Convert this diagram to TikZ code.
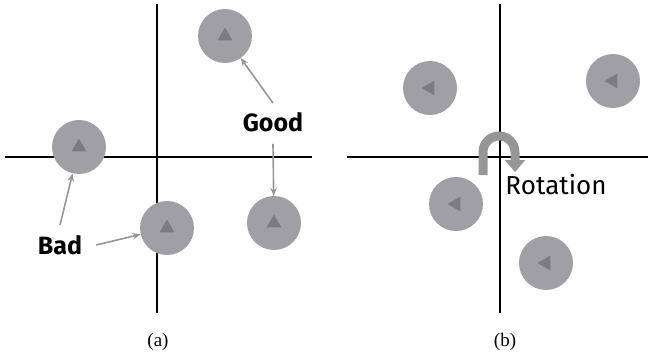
\documentclass[tikz,border=0pt]{standalone}
\usepackage{fontspec}
\setmainfont{Liberation Serif}
\newfontfamily\handfont{Fira Sans}
\usetikzlibrary{shapes.geometric}
\usetikzlibrary{arrows.meta}

\definecolor{diskgray}{RGB}{160,160,164}
\definecolor{markgray}{RGB}{124,124,128}
\definecolor{pointgray}{RGB}{150,150,152}

\tikzset{
  particle/.style={circle,fill=diskgray,minimum size=54pt,inner sep=0pt},
  marker/.style={regular polygon,regular polygon sides=3,fill=markgray,minimum size=17pt,inner sep=0pt},
  pointer/.style={draw=pointgray,line width=1.6pt,-{Stealth[length=8pt,width=6.5pt]}},
  tag/.style={font=\handfont\bfseries\fontsize{25}{25}\selectfont,inner sep=2pt},
  axis/.style={line width=1.2pt}
}

\begin{document}
\begin{tikzpicture}[x=1pt,y=-1pt]
\useasboundingbox (0,0) rectangle (649,360);

% Panel (a): axes
\draw[axis] (157,4) -- (157,313);
\draw[axis] (5,157) -- (312,157);

% Panel (a): particles
\node[particle] (pa1) at (225,36) {};
\node[marker] at (pa1) {};
\node[particle] (pa2) at (79,147) {};
\node[marker] at (pa2) {};
\node[particle] (pa3) at (167,228) {};
\node[marker] at (pa3) {};
\node[particle] (pa4) at (274,223) {};
\node[marker] at (pa4) {};

% Panel (a): labels and pointers
\node[tag] (good) at (273,122) {Good};
\node[tag] (bad) at (60,245) {Bad};
\draw[pointer] ([yshift=7pt]good.north) -- (pa1);
\draw[pointer] ([yshift=-10pt]good.south) -- (pa4);
\draw[pointer] ([yshift=8pt]bad.north) -- (pa2);
\draw[pointer] ([xshift=12pt]bad.east) -- (pa3);

\node[font=\fontsize{19}{19}\selectfont] (capa) at (158,342) {(a)};

% Panel (b): axes
\draw[axis] (500,4) -- (500,313);
\draw[axis] (347,157) -- (648,157);

% Panel (b): particles
\node[particle] (pb1) at (430,88) {};
\node[marker,rotate=90] at (pb1) {};
\node[particle] (pb2) at (613,81) {};
\node[marker,rotate=90] at (pb2) {};
\node[particle] (pb3) at (456,204) {};
\node[marker,rotate=90] at (pb3) {};
\node[particle] (pb4) at (546,263) {};
\node[marker,rotate=90] at (pb4) {};

% Panel (b): rotation arrow
\draw[pointgray,line width=9pt,-{Triangle[width=20pt,length=12pt]}]
  (483,175) -- (483,152) arc[start angle=180,end angle=360,radius=16] -- (515,172);
\node[font=\handfont\fontsize{26}{26}\selectfont] (rot) at (556,185) {Rotation};

\node[font=\fontsize{19}{19}\selectfont] (capb) at (505,342) {(b)};

\end{tikzpicture}
\end{document}
